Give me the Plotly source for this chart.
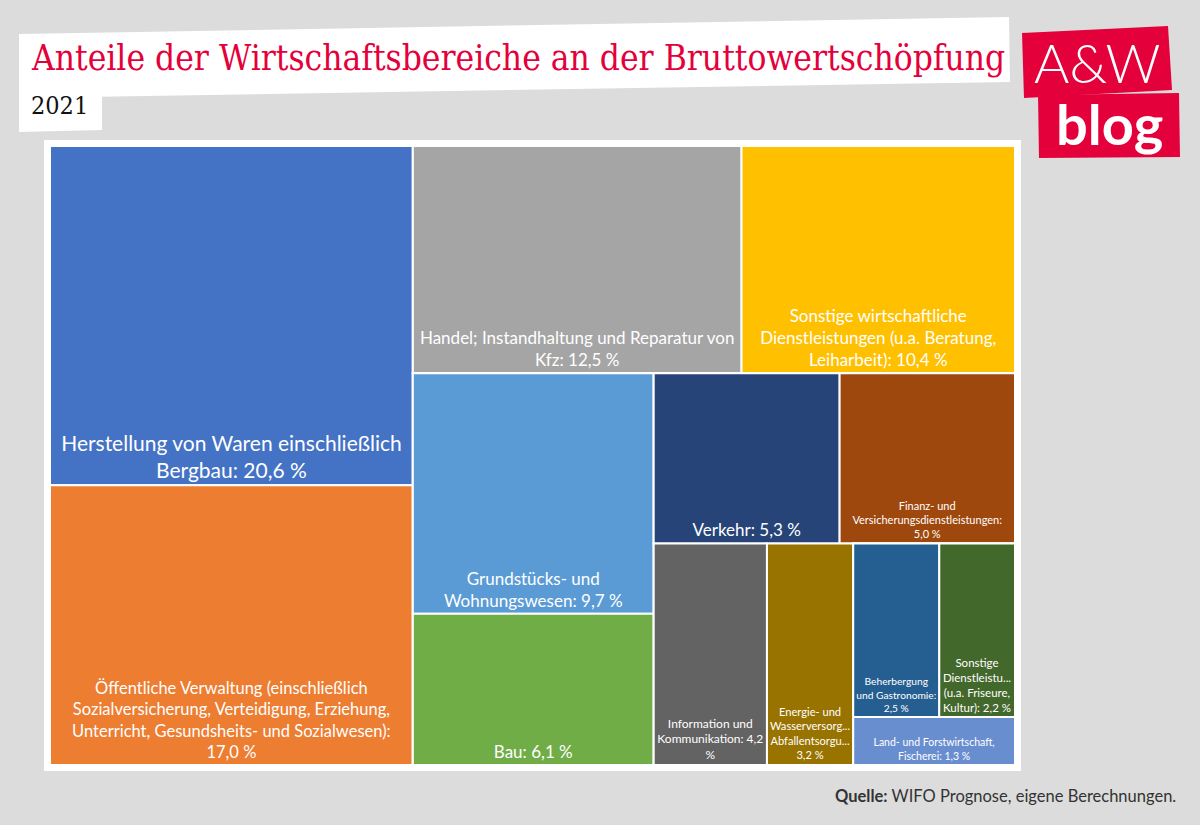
import plotly.graph_objects as go

W, H = 1200, 825

# ---------------- data ----------------
sector_ids = ["herstellung", "oeffentlich", "handel", "sonst_wirt", "grundstueck", "bau",
              "verkehr", "finanz", "info", "energie", "beherbergung", "sonst_dienst", "land"]
sector_values = [20.6, 17.0, 12.5, 10.4, 9.7, 6.1, 5.3, 5.0, 4.2, 3.2, 2.5, 2.2, 1.3]
sector_labels = [
    "Herstellung von Waren einschließlich<br>Bergbau: {v} %",
    "Öffentliche Verwaltung (einschließlich<br>Sozialversicherung, Verteidigung, Erziehung,<br>Unterricht, Gesundsheits- und Sozialwesen):<br>{v} %",
    "Handel; Instandhaltung und Reparatur von<br>Kfz: {v} %",
    "Sonstige wirtschaftliche<br>Dienstleistungen (u.a. Beratung,<br>Leiharbeit): {v} %",
    "Grundstücks- und<br>Wohnungswesen: {v} %",
    "Bau: {v} %",
    "Verkehr: {v} %",
    "Finanz- und<br>Versicherungsdienstleistungen:<br>{v} %",
    "Information und<br>Kommunikation: {v}<br>%",
    "Energie- und<br>Wasserversorg...<br>Abfallentsorgu...<br>{v} %",
    "Beherbergung<br>und Gastronomie:<br>{v} %",
    "Sonstige<br>Dienstleistu...<br>(u.a. Friseure,<br>Kultur): {v} %",
    "Land- und Forstwirtschaft,<br>Fischerei: {v} %",
]
sector_colors = ["#4472C4", "#ED7D31", "#A5A5A5", "#FFC000", "#5B9BD5", "#70AD47",
                 "#264478", "#9E480E", "#636363", "#997300", "#255E91", "#43682B", "#698ED0"]
sector_font_sizes = [21, 16.5, 17, 17, 17, 17, 17, 11, 12, 12, 10.5, 11.5, 10.5]

# grouping that reproduces the slice/dice arrangement of the original treemap
group_children = {
    "": ["g_col1", "g_rest"],
    "g_col1": ["herstellung", "oeffentlich"],
    "g_rest": ["g_top", "g_bottom"],
    "g_top": ["handel", "sonst_wirt"],
    "g_bottom": ["g_gb", "g_r2"],
    "g_gb": ["grundstueck", "bau"],
    "g_r2": ["g_vf", "g_r3"],
    "g_vf": ["verkehr", "finanz"],
    "g_r3": ["info", "energie", "g_r4"],
    "g_r4": ["g_bs", "land"],
    "g_bs": ["beherbergung", "sonst_dienst"],
}

# ---------------- build nodes (DFS order keeps child order) ----------------
ids, parents, values, texts, colors, fsizes = [], [], [], [], [], []
sec_index = {s: i for i, s in enumerate(sector_ids)}


def walk(node, parent):
    if node in sec_index:
        i = sec_index[node]
        ids.append(node)
        parents.append(parent)
        values.append(sector_values[i])
        texts.append(sector_labels[i].replace("{v}", f"{sector_values[i]:.1f}".replace(".", ",")))
        colors.append(sector_colors[i])
        fsizes.append(sector_font_sizes[i])
    else:
        if node != "":
            ids.append(node)
            parents.append(parent)
            values.append(0)
            texts.append("")
            colors.append("#FFFFFF")
            fsizes.append(10)
        for c in group_children[node]:
            walk(c, node)


walk("", "")

FONT = "Lato, Open Sans, sans-serif"
SERIF = "DejaVu Serif Condensed, DejaVu Serif, serif"

fig = go.Figure(go.Treemap(
    ids=ids,
    labels=ids,
    parents=parents,
    values=values,
    text=texts,
    textinfo="text",
    branchvalues="remainder",
    sort=False,
    tiling=dict(packing="slice-dice", pad=0),
    marker=dict(colors=colors, line=dict(color="white", width=2),
                pad=dict(t=0, l=0, r=0, b=0)),
    textfont=dict(family=FONT, size=fsizes, color="white"),
    textposition="bottom center",
    pathbar=dict(visible=False),
    hoverinfo="skip",
    domain=dict(x=[50 / W, 1015 / W], y=[1 - 765 / H, 1 - 146 / H]),
))


def px(x):
    return x / W


def py(y):
    return 1 - y / H


def poly(points):
    d = "M " + " L ".join(f"{px(x):.5f},{py(y):.5f}" for x, y in points) + " Z"
    return d


shapes = [
    # white panel behind the treemap
    dict(type="rect", xref="paper", yref="paper", x0=px(44), x1=px(1021), y0=py(771), y1=py(140),
         fillcolor="white", line=dict(width=0), layer="below"),
    # title strip (slightly tilted)
    dict(type="path", xref="paper", yref="paper",
         path=poly([(19, 34), (1009, 17), (1010, 82), (19, 98)]),
         fillcolor="white", line=dict(width=0), layer="below"),
    # subtitle box
    dict(type="path", xref="paper", yref="paper",
         path=poly([(19, 90), (102, 90), (102, 130), (19, 132)]),
         fillcolor="white", line=dict(width=0), layer="below"),
    # logo boxes
    dict(type="path", xref="paper", yref="paper",
         path=poly([(1022, 33), (1168, 26), (1172, 90), (1024, 98)]),
         fillcolor="#E4003B", line=dict(width=0), layer="below"),
    dict(type="path", xref="paper", yref="paper",
         path=poly([(1038, 95), (1179, 93), (1180, 157), (1039, 158)]),
         fillcolor="#E4003B", line=dict(width=0), layer="below"),
]

annotations = [
    dict(text="Anteile der Wirtschaftsbereiche an der Bruttowertschöpfung", x=px(29), y=py(58),
         xref="paper", yref="paper", xanchor="left", yanchor="middle", showarrow=False,
         font=dict(family=SERIF, size=35, color="#E4003B")),
    dict(text="2021", x=px(29), y=py(106), xref="paper", yref="paper", xanchor="left",
         yanchor="middle", showarrow=False,
         font=dict(family=SERIF, size=25, color="#111111")),
    dict(text="A&amp;W", x=px(1097), y=py(62), xref="paper", yref="paper", xanchor="center",
         yanchor="middle", showarrow=False,
         font=dict(family="Lato", size=54, color="white", weight=300)),
    dict(text="<b>blog</b>", x=px(1109), y=py(124), xref="paper", yref="paper", xanchor="center",
         yanchor="middle", showarrow=False,
         font=dict(family="Lato", size=56, color="white")),
    dict(text="<b>Quelle:</b> WIFO Prognose, eigene Berechnungen.", x=px(1178), y=py(796),
         xref="paper", yref="paper", xanchor="right", yanchor="middle", showarrow=False,
         font=dict(family="Lato", size=16.5, color="#333333")),
]

fig.update_layout(
    width=W, height=H,
    margin=dict(l=0, r=0, t=0, b=0),
    paper_bgcolor="#DCDCDC",
    plot_bgcolor="#DCDCDC",
    shapes=shapes,
    annotations=annotations,
    showlegend=False,
)

fig.write_html("out.html", config={"displayModeBar": False},
               post_script="document.body.style.margin='0';")
